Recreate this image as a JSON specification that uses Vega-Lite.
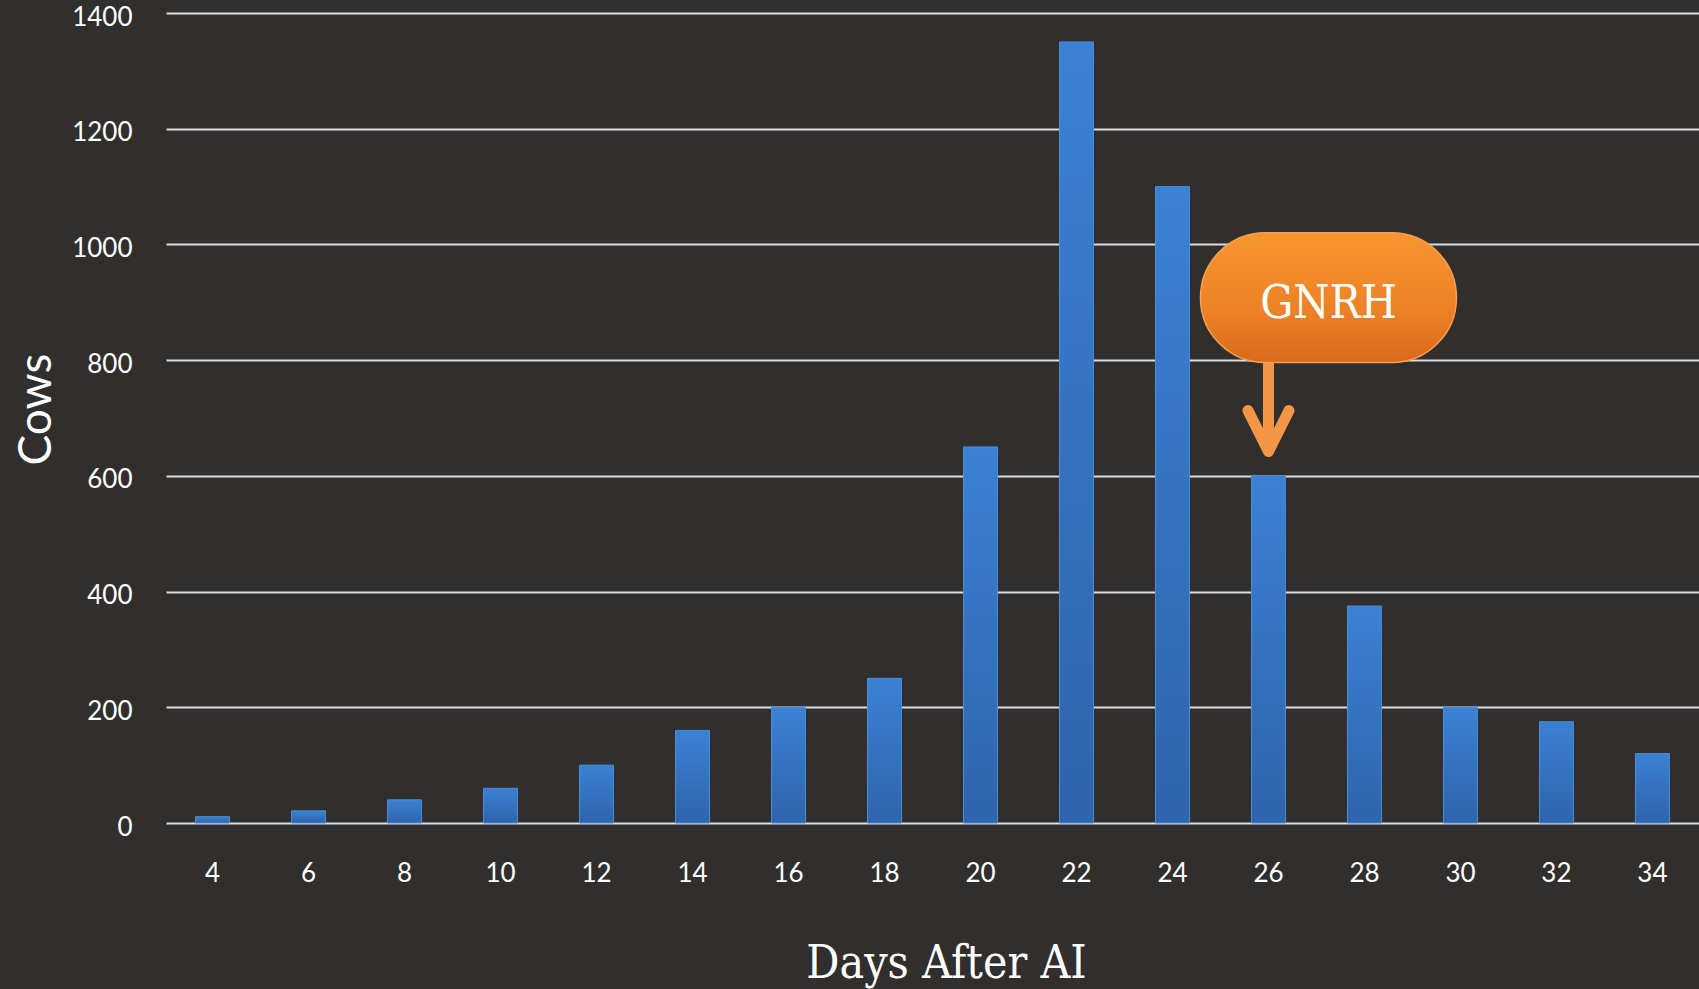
{
  "$schema": "https://vega.github.io/schema/vega-lite/v6.json",
  "autosize": {"type": "none"},
  "padding": {"left": 166, "top": 13, "right": 0, "bottom": 166},
  "width": 1533,
  "height": 810,
  "background": "#302f2e",
  "config": {"view": {"stroke": null}},
  "layer": [
    {
      "data": {"values": [
        {"day": 4, "cows": 11},
        {"day": 6, "cows": 21},
        {"day": 8, "cows": 40},
        {"day": 10, "cows": 60},
        {"day": 12, "cows": 100},
        {"day": 14, "cows": 160},
        {"day": 16, "cows": 200},
        {"day": 18, "cows": 250},
        {"day": 20, "cows": 650},
        {"day": 22, "cows": 1350},
        {"day": 24, "cows": 1100},
        {"day": 26, "cows": 600},
        {"day": 28, "cows": 375},
        {"day": 30, "cows": 200},
        {"day": 32, "cows": 175},
        {"day": 34, "cows": 120}
      ]},
      "mark": {
        "type": "bar",
        "color": {"gradient": "linear", "x1": 0, "y1": 0, "x2": 0, "y2": 1,
          "stops": [{"offset": 0, "color": "#3b81d4"}, {"offset": 1, "color": "#2f64ab"}]},
        "stroke": "#4a8ddb",
        "strokeWidth": 1
      },
      "encoding": {
        "x": {
          "field": "day", "type": "ordinal",
          "scale": {"domain": [4,6,8,10,12,14,16,18,20,22,24,26,28,30,32,34], "paddingInner": 0.646, "paddingOuter": 0.308},
          "axis": {
            "title": "Days After AI",
            "labelAngle": 0,
            "domain": false, "ticks": false, "tickSize": 0,
            "labelPadding": 50, "labelBaseline": "middle",
            "labelFont": "Lato", "labelFontSize": 26, "labelColor": "#ffffff",
            "titleFont": "DejaVu Serif Condensed, DejaVu Serif", "titleFontSize": 46, "titleFontWeight": "normal",
            "titleColor": "#ffffff", "titleX": 780, "titleY": 154, "titleBaseline": "alphabetic", "titleAlign": "center"
          }
        },
        "y": {
          "field": "cows", "type": "quantitative",
          "scale": {"domain": [0, 1400], "nice": false},
          "axis": {
            "title": "Cows",
            "format": "d",
            "values": [0,200,400,600,800,1000,1200,1400],
            "grid": true, "gridColor": "#dedede", "gridWidth": 2,
            "domain": false, "ticks": false, "tickSize": 0,
            "labelPadding": 34, "labelOffset": 4,
            "labelFont": "Lato", "labelFontSize": 26, "labelColor": "#ffffff",
            "titleFont": "Lato", "titleFontSize": 46, "titleFontWeight": "normal", "titleColor": "#ffffff",
            "titleX": -116, "titleY": 396, "titleBaseline": "alphabetic", "titleAlign": "center"
          }
        }
      }
    },
    {
      "data": {"values": [
        {"day": 26, "top": 1020, "bottom": 796, "shaftTop": 800, "tip": 642, "label": "GNRH", "labelY": 873}
      ]},
      "layer": [
        {
          "mark": {"type": "rule", "color": "#f39745", "strokeWidth": 11},
          "encoding": {
            "x": {"field": "day", "type": "ordinal"},
            "y": {"field": "shaftTop", "type": "quantitative"},
            "y2": {"field": "tip"}
          }
        },
        {
          "mark": {"type": "point", "shape": "M-0.5,-1L0,0L0.5,-1", "size": 6724, "filled": false,
            "color": "#f39745", "strokeWidth": 11, "strokeCap": "round", "strokeJoin": "round", "opacity": 1},
          "encoding": {
            "x": {"field": "day", "type": "ordinal"},
            "y": {"field": "tip", "type": "quantitative"}
          }
        },
        {
          "mark": {"type": "bar", "width": 256, "xOffset": 60, "cornerRadius": 65,
            "color": {"gradient": "linear", "x1": 0, "y1": 0, "x2": 0, "y2": 1,
              "stops": [{"offset": 0, "color": "#fa952f"}, {"offset": 0.6, "color": "#ec8126"}, {"offset": 1, "color": "#d96a1d"}]},
            "stroke": "#f7a050", "strokeWidth": 1.5},
          "encoding": {
            "x": {"field": "day", "type": "ordinal"},
            "y": {"field": "top", "type": "quantitative"},
            "y2": {"field": "bottom"}
          }
        },
        {
          "mark": {"type": "text", "xOffset": 60, "baseline": "alphabetic", "align": "center",
            "font": "DejaVu Serif Condensed, DejaVu Serif", "fontSize": 46, "color": "#ffffff"},
          "encoding": {
            "x": {"field": "day", "type": "ordinal"},
            "y": {"field": "labelY", "type": "quantitative"},
            "text": {"field": "label"}
          }
        }
      ]
    }
  ]
}
